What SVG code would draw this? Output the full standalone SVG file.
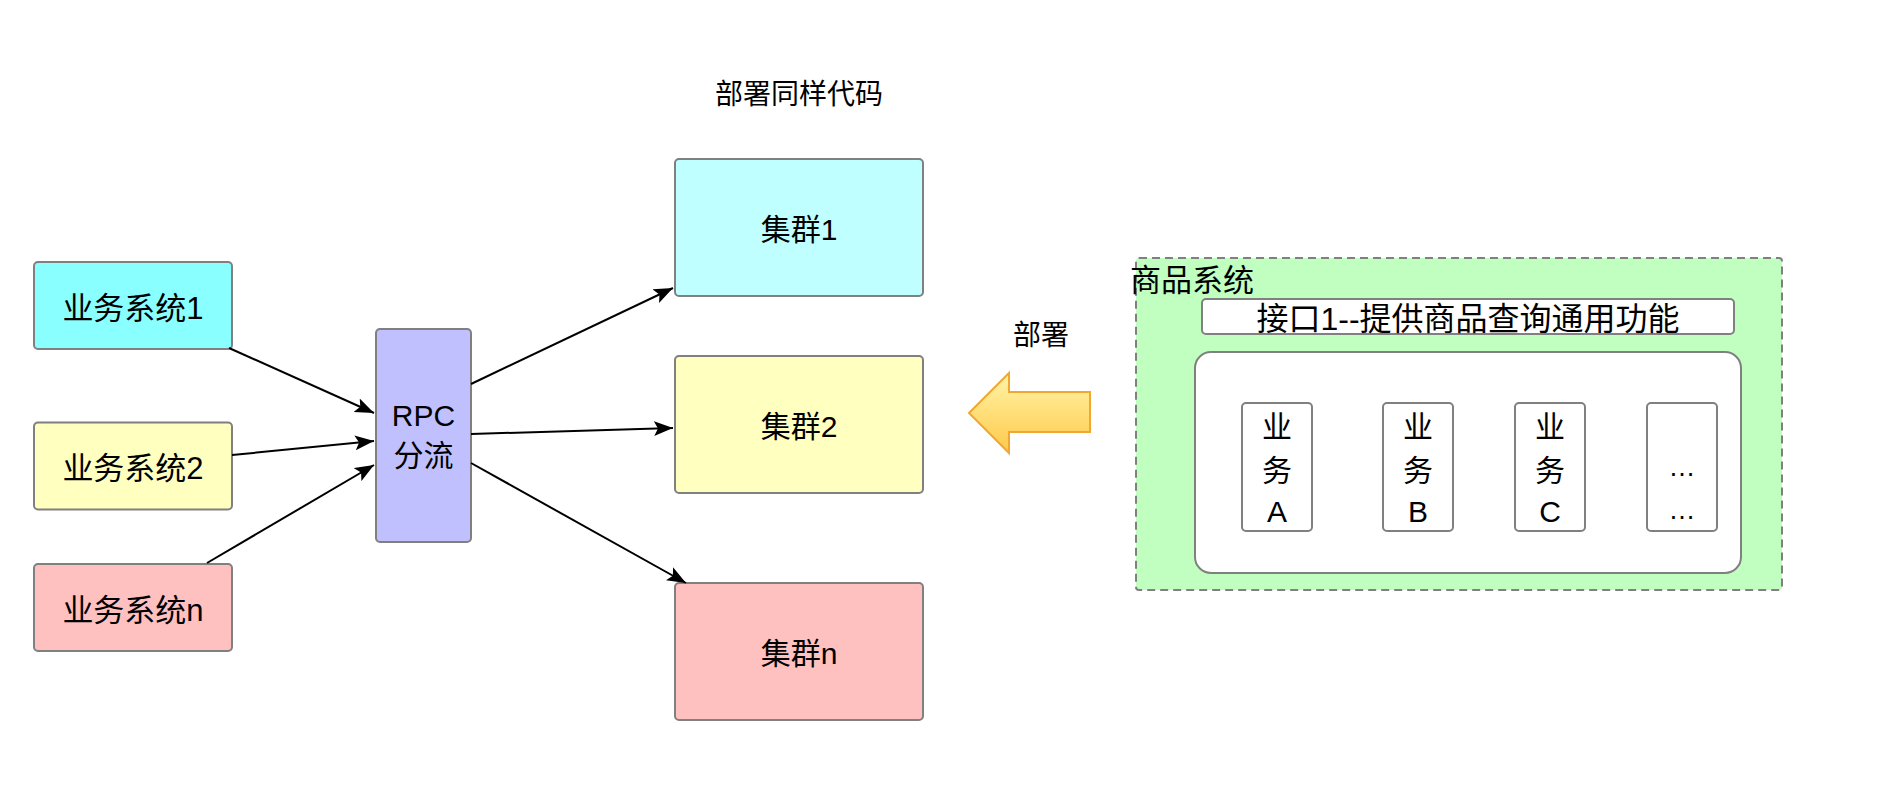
<svg xmlns="http://www.w3.org/2000/svg" width="1886" height="790" viewBox="0 0 1886 790">
<defs>
<style>
text{font-family:"Liberation Sans","Noto Sans CJK SC",sans-serif;fill:#000;text-anchor:middle}
.box{stroke:#808080;stroke-width:2}
.edge{stroke:#000;stroke-width:2;fill:none;marker-end:url(#ah)}
.t30{font-size:30px}
.t31{font-size:31px}
</style>
<marker id="ah" markerUnits="userSpaceOnUse" markerWidth="20" markerHeight="16" refX="19" refY="7.5" orient="auto" viewBox="0 0 20 15">
<path d="M0,0 L19,7.5 L0,15 L4,7.5 z" fill="#000"/>
</marker>
<linearGradient id="ag" x1="0" y1="0" x2="0" y2="1">
<stop offset="0" stop-color="#fff4a8"/>
<stop offset="1" stop-color="#ffc94a"/>
</linearGradient>
</defs>
<rect width="1886" height="790" fill="#fff"/>

<g id="title"><text x="799" y="104" style="font-size:28px">部署同样代码</text></g>

<g id="biz1"><rect class="box" x="34" y="262" width="198" height="87" rx="4" fill="#8affff"/><text class="t31" x="133" y="319">业务系统1</text></g>
<g id="biz2"><rect class="box" x="34" y="422.5" width="198" height="87" rx="4" fill="#ffffc0"/><text class="t31" x="133" y="479">业务系统2</text></g>
<g id="bizn"><rect class="box" x="34" y="564" width="198" height="87" rx="4" fill="#ffc0c0"/><text class="t31" x="133" y="621">业务系统n</text></g>

<g id="rpc"><rect class="box" x="376" y="329" width="95" height="213" rx="4" fill="#c0c0ff"/><text class="t30" x="423.5" y="426">RPC</text><text class="t30" x="423.5" y="466">分流</text></g>

<g id="c1"><rect class="box" x="675" y="159" width="248" height="137" rx="4" fill="#c0ffff"/><text class="t30" x="799" y="240">集群1</text></g>
<g id="c2"><rect class="box" x="675" y="356" width="248" height="137" rx="4" fill="#ffffc0"/><text class="t30" x="799" y="437">集群2</text></g>
<g id="cn"><rect class="box" x="675" y="583" width="248" height="137" rx="4" fill="#ffc0c0"/><text class="t30" x="799" y="664">集群n</text></g>

<g id="connectors">
<line class="edge" x1="229" y1="348" x2="374" y2="413"/>
<line class="edge" x1="232" y1="455" x2="374" y2="441"/>
<line class="edge" x1="207" y1="563" x2="374" y2="465"/>
<line class="edge" x1="471" y1="384" x2="673" y2="288"/>
<line class="edge" x1="471" y1="434" x2="673" y2="428"/>
<line class="edge" x1="471" y1="463" x2="686" y2="583"/>
</g>

<g id="deploy-arrow">
<polygon points="969,413 1009,373 1009,392 1090,392 1090,432 1009,432 1009,453" fill="url(#ag)" stroke="#f0a830" stroke-width="2"/>
<text x="1041" y="345" style="font-size:28px">部署</text>
</g>

<g id="goods">
<rect x="1136" y="258" width="646" height="332" rx="3" fill="#c0ffc0" stroke="#808080" stroke-width="2" stroke-dasharray="8 5"/>
<text x="1130" y="291" style="font-size:31px;text-anchor:start">商品系统</text>
</g>

<g id="iface">
<rect class="box" x="1202" y="299" width="532" height="35" rx="4" fill="#fff"/>
<text x="1468" y="330" style="font-size:32px">接口1--提供商品查询通用功能</text>
</g>

<g id="inner"><rect class="box" x="1195" y="352" width="546" height="221" rx="16" fill="#fff"/></g>

<g id="bizA"><rect class="box" x="1242" y="403" width="70" height="128" rx="4" fill="#fff"/><text class="t30" x="1277" y="437">业</text><text class="t30" x="1277" y="481">务</text><text class="t30" x="1277" y="522">A</text></g>
<g id="bizB"><rect class="box" x="1383" y="403" width="70" height="128" rx="4" fill="#fff"/><text class="t30" x="1418" y="437">业</text><text class="t30" x="1418" y="481">务</text><text class="t30" x="1418" y="522">B</text></g>
<g id="bizC"><rect class="box" x="1515" y="403" width="70" height="128" rx="4" fill="#fff"/><text class="t30" x="1550" y="437">业</text><text class="t30" x="1550" y="481">务</text><text class="t30" x="1550" y="522">C</text></g>
<g id="bizEtc"><rect class="box" x="1647" y="403" width="70" height="128" rx="4" fill="#fff"/><text x="1682" y="476" style="font-size:27px">…</text><text x="1682" y="519" style="font-size:27px">…</text></g>
</svg>
